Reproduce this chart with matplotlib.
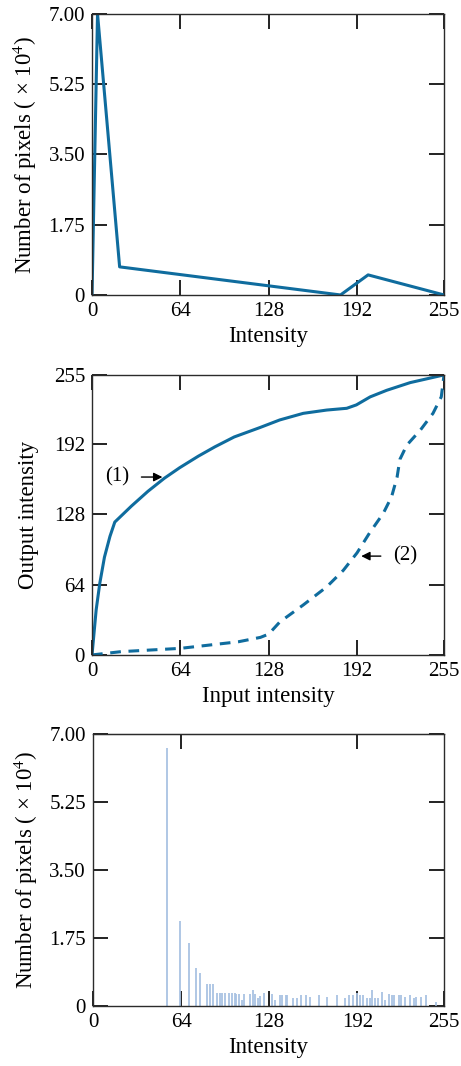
import numpy as np
import matplotlib
matplotlib.use('Agg')
import matplotlib.pyplot as plt

plt.rcParams['font.family'] = ['Liberation Serif', 'DejaVu Serif']
plt.rcParams['mathtext.fontset'] = 'stix'

# specified histogram (top)
spec_x = [0, 4, 20, 180, 200, 255]
spec_y = [0, 7.0, 0.7, 0.0, 0.5, 0.0]

# transformation curves (middle)
t1_x = [0, 3, 5.6, 9, 13, 16.5, 28.5, 40.5, 52.5, 63.5, 77, 89, 103, 121.5, 136,
        153, 170, 184.5, 191.5, 201.5, 213.5, 230.5, 255]
t1_y = [0, 41, 65, 89, 108, 121, 135.5, 149, 161, 170.5, 181, 189.5, 198.5, 207, 214,
        220, 223, 224.6, 227.7, 235, 241, 248, 255]
t2_x = [0, 21, 64, 106, 122, 128, 136, 153, 170, 182, 192, 201, 211, 217, 221,
        223, 228, 238, 247, 253, 255]
t2_y = [0, 3, 6, 12, 16, 19, 30, 45.5, 62, 77, 93, 111, 129, 144, 162,
        178, 191, 205, 220, 235, 255]

# resulting histogram (bottom)
hist_x = [54, 63, 70, 75, 78, 83, 85, 87, 90, 92, 94, 96, 99, 101, 103, 104, 106, 108,
          110, 114, 116, 118, 120, 121, 124, 130, 132, 136, 137, 140, 141, 145, 148,
          151, 155, 158, 164, 170, 177, 183, 186, 189, 192, 194, 196, 199, 201, 203,
          205, 207, 210, 212, 215, 217, 219, 222, 224, 227, 230, 233, 235, 238, 242, 249]
hist_y = [6.63, 2.19, 1.61, 0.99, 0.84, 0.56, 0.56, 0.56, 0.33, 0.33, 0.33, 0.33, 0.33, 0.33, 0.33, 0.30, 0.30, 0.15,
          0.30, 0.30, 0.40, 0.30, 0.20, 0.25, 0.33, 0.30, 0.15, 0.27, 0.27, 0.27, 0.27, 0.20, 0.20,
          0.27, 0.27, 0.22, 0.27, 0.22, 0.27, 0.20, 0.27, 0.27, 0.33, 0.27, 0.27, 0.20, 0.20, 0.40,
          0.20, 0.20, 0.37, 0.15, 0.30, 0.27, 0.27, 0.27, 0.27, 0.22, 0.27, 0.20, 0.22, 0.22, 0.27, 0.10]

xt = [0, 64, 128, 192, 255]
cnt_ticks = [0, 1.75, 3.5, 5.25, 7.0]
cnt_labels = ['0', '1.75', '3.50', '5.25', '7.00']
out_ticks = [0, 64, 128, 192, 255]

blue = '#0f6c9e'
spine = '#2b2b2b'
fs_tick = 15
fs_lab = 16.5
ylab_cnt = 'Number of pixels ( × 10$^{4}$)'

fig = plt.figure(figsize=(4.61, 10.66), dpi=100)
ax1 = fig.add_axes([0.1996, 0.7233, 0.7636, 0.2636])
ax2 = fig.add_axes([0.1996, 0.3856, 0.7636, 0.2627])
ax3 = fig.add_axes([0.2017, 0.0563, 0.7614, 0.2552])


def style(ax):
    for s in ax.spines.values():
        s.set_color(spine)
        s.set_linewidth(1.0)
    ax.tick_params(direction='in', length=11, width=1.3, color='#111111',
                   labelsize=fs_tick, pad=5, top=True, right=True)


ax1.plot(spec_x, spec_y, color=blue, lw=2.2)
ax1.set_xlim(0, 255)
ax1.set_ylim(0, 7)
ax1.set_xticks(xt)
ax1.set_yticks(cnt_ticks)
ax1.set_yticklabels(cnt_labels)
ax1.set_xlabel('Intensity', fontsize=fs_lab, labelpad=4)
ax1.set_ylabel(ylab_cnt, fontsize=fs_lab)
ax1.yaxis.set_label_coords(-0.15, 0.5)
style(ax1)

ax2.plot(t1_x, t1_y, color=blue, lw=2.2)
ax2.plot(t2_x, t2_y, color=blue, lw=2.2, linestyle=(0, (3.5, 2.5)))
ax2.set_xlim(0, 255)
ax2.set_ylim(0, 255)
ax2.set_xticks(xt)
ax2.set_yticks(out_ticks)
ax2.set_xlabel('Input intensity', fontsize=fs_lab, labelpad=4)
ax2.set_ylabel('Output intensity', fontsize=fs_lab)
ax2.yaxis.set_label_coords(-0.15, 0.5)
ax2.annotate('(1)', xy=(51, 162), xytext=(18, 162), fontsize=fs_tick,
             ha='center', va='center',
             arrowprops=dict(arrowstyle='-|>', color='black', lw=1.0, shrinkA=7, shrinkB=0,
                             mutation_scale=13))
ax2.annotate('(2)', xy=(195, 90), xytext=(227, 90), fontsize=fs_tick,
             ha='center', va='center',
             arrowprops=dict(arrowstyle='-|>', color='black', lw=1.0, shrinkA=7, shrinkB=0,
                             mutation_scale=13))
style(ax2)

ax3.vlines(hist_x, 0, hist_y, color='#a9c3e3', lw=1.3)
ax3.set_xlim(0, 255)
ax3.set_ylim(0, 7)
ax3.set_xticks(xt)
ax3.set_yticks(cnt_ticks)
ax3.set_yticklabels(cnt_labels)
ax3.set_xlabel('Intensity', fontsize=fs_lab, labelpad=4)
ax3.set_ylabel(ylab_cnt, fontsize=fs_lab)
ax3.yaxis.set_label_coords(-0.15, 0.5)
style(ax3)
ax3.tick_params(top=False)
sec = ax3.secondary_xaxis('top')
sec.set_xticks([64, 192])
sec.tick_params(direction='in', length=11, width=1.3, color='#111111', labeltop=False)
sec.spines['top'].set_color(spine)

fig.savefig('out.png', dpi=100)
